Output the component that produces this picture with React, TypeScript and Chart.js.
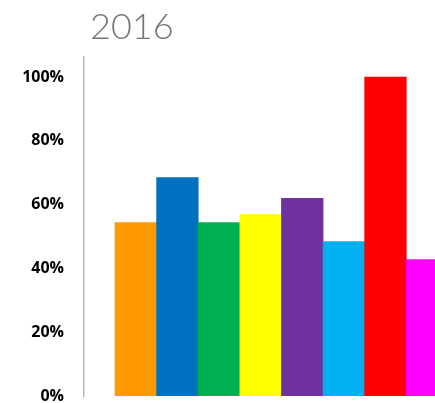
import React, { useEffect, useRef } from "react";
import { Chart, registerables } from "chart.js";

Chart.register(...registerables);

// ---- Data ----
const title = "2016";
const categories = ["1", "2", "3", "4", "5", "6", "7", "8"];
const values = [54.4, 68.5, 54.4, 56.9, 62.0, 48.4, 100, 42.8];
const barColors = [
  "#FF9900",
  "#0070C0",
  "#00B050",
  "#FFFF00",
  "#7030A0",
  "#00B0F0",
  "#FF0000",
  "#FF00FF",
];
const yTicks = [0, 20, 40, 60, 80, 100];

export default function App() {
  const canvasRef = useRef<HTMLCanvasElement | null>(null);

  useEffect(() => {
    const canvas = canvasRef.current;
    if (!canvas) return;
    const chart = new Chart(canvas, {
      type: "bar",
      data: {
        labels: categories,
        datasets: [
          {
            data: values.map((v, i) => ({ x: i, y: v })) as any,
            backgroundColor: barColors,
            borderWidth: 0,
            barPercentage: 1,
            categoryPercentage: 1,
          },
        ],
      },
      options: {
        animation: false,
        responsive: false,
        maintainAspectRatio: false,
        layout: { padding: { left: 0, right: 0, top: 57, bottom: 7 } },
        plugins: {
          legend: { display: false },
          title: { display: false },
          tooltip: { enabled: false },
        },
        scales: {
          x: {
            type: "linear",
            min: -1.245,
            max: 7.19,
            offset: false,
            display: false,
            grid: { display: false },
          },
          y: {
            min: 0,
            max: 106.3,
            afterBuildTicks: (scale: any) => {
              scale.ticks = yTicks.map((v) => ({ value: v }));
            },
            afterFit: (scale: any) => {
              scale.width = 84;
              scale.paddingTop = 0;
              scale.paddingBottom = 0;
            },
            grid: { display: false, drawTicks: false },
            border: { display: true, color: "#b8b8b8", width: 1.5 },
            ticks: {
              padding: 20,
              color: "#000000",
              font: { family: "Open Sans", weight: "bold", size: 16 },
              callback: (v: any) => `${v}%`,
            },
          },
        },
      },
    });
    return () => chart.destroy();
  }, []);

  return (
    <div
      style={{
        position: "fixed",
        left: 0,
        top: 0,
        width: 435,
        height: 403,
        overflow: "hidden",
        background: "#ffffff",
      }}
    >
      <canvas
        ref={canvasRef}
        width={435}
        height={403}
        style={{ display: "block", width: 435, height: 403 }}
      />
      <div
        style={{
          position: "absolute",
          left: 90,
          top: 7,
          fontFamily: "Lato",
          fontWeight: 300,
          fontSize: 36,
          lineHeight: "36px",
          color: "#767676",
          whiteSpace: "nowrap",
        }}
      >
        {title}
      </div>
    </div>
  );
}
